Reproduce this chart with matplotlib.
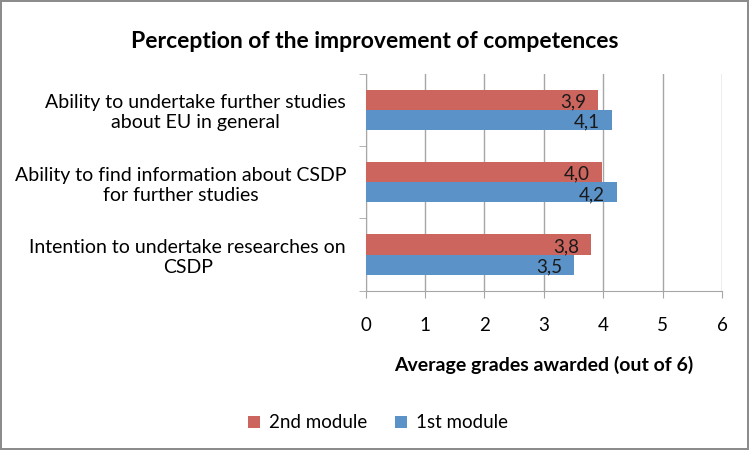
import matplotlib.pyplot as plt
import numpy as np

plt.rcParams['font.family'] = ['Lato', 'DejaVu Sans']

# data (top category first)
categories = ["Ability to undertake further studies\nabout EU in general",
              "Ability to find information about CSDP\nfor further studies",
              "Intention to undertake researches on\nCSDP"]
module2 = [3.92, 3.98, 3.79]
module1 = [4.14, 4.23, 3.51]
xticks = [0, 1, 2, 3, 4, 5, 6]

red = '#CC655D'
blue = '#5B93C9'
grey = '#A6A6A6'

fig = plt.figure(figsize=(7.49, 4.5), dpi=100)
fig.patch.set_edgecolor('#8C8C8C')
fig.patch.set_linewidth(1.5)
ax = fig.add_axes([0.488, 0.354, 0.476, 0.482])

y = np.arange(len(categories))[::-1]
h = 0.278
b2 = ax.barh(y + h / 2, module2, height=h, color=red, label='2nd module', zorder=3)
b1 = ax.barh(y - h / 2, module1, height=h, color=blue, label='1st module', zorder=3)

for bars, vals in ((b2, module2), (b1, module1)):
    for bar, v in zip(bars, vals):
        txt = f"{v:.1f}".replace('.', ',')
        ax.text(v - 0.2, bar.get_y() + bar.get_height() / 2 - 0.03, txt,
                ha='right', va='center', fontsize=13.5, color='#1a1a1a', zorder=4)

ax.set_xlim(0, 6)
ax.set_ylim(-0.5, 2.5)
ax.set_xticks(xticks)
ax.set_xticklabels([str(t) for t in xticks], fontsize=13.5)
ax.set_yticks(y)
ax.set_yticklabels(categories, fontsize=14, multialignment='center')
ax.tick_params(axis='y', length=0, pad=14)
ax.tick_params(axis='x', length=5, color=grey, pad=14)
ax.set_yticks([-0.5, 0.5, 1.5, 2.5], minor=True)
ax.tick_params(axis='y', which='minor', length=5, color=grey)

ax.grid(axis='x', color=grey, linewidth=1, zorder=0)
for s in ['top', 'right']:
    ax.spines[s].set_visible(False)
for s in ['left', 'bottom']:
    ax.spines[s].set_color(grey)

ax.set_xlabel('Average grades awarded (out of 6)', fontsize=14, fontweight='bold', labelpad=16)
fig.suptitle('Perception of the improvement of competences', fontsize=16.5, fontweight='bold', y=0.932)

fig.legend(handles=[b2, b1], loc='center', bbox_to_anchor=(0.505, 0.06), ncol=2,
           frameon=False, fontsize=13.5, handlelength=0.6, handleheight=0.6,
           handletextpad=0.5, columnspacing=1.5)

fig.savefig('out.png', dpi=100, edgecolor=fig.get_edgecolor())
